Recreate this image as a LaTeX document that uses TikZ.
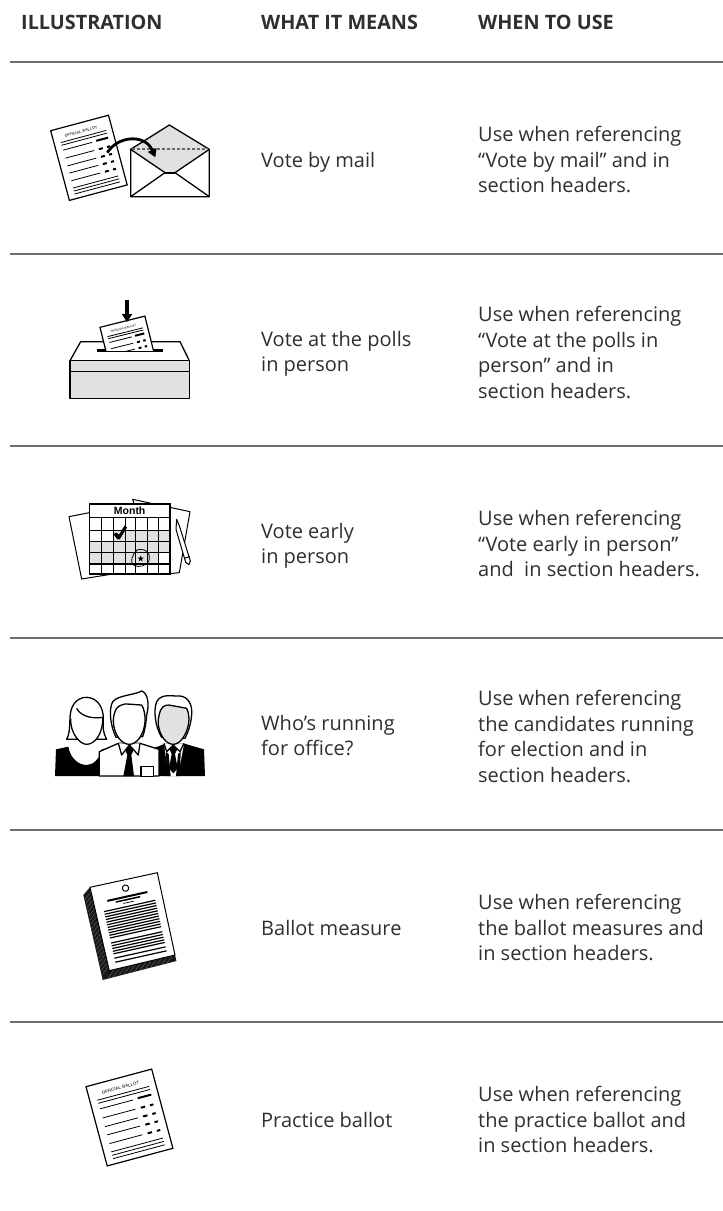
\documentclass[tikz,border=0pt]{standalone}
\usepackage{fontspec}
\setmainfont{Open Sans}
\newfontfamily\helv{Liberation Sans}
\usetikzlibrary{arrows.meta,shapes.geometric,calc}
\definecolor{ink}{HTML}{2F2F2F}
\definecolor{rulegray}{HTML}{6E6E6E}
\definecolor{pale}{HTML}{E0E1E3}
\tikzset{
  headtext/.style={anchor=base west,inner sep=0,text=ink,font=\fontsize{19.8}{24}\selectfont\bfseries},
  bodytext/.style={anchor=north west,inner sep=0,yshift=-1pt,text=ink,align=left,font=\fontsize{20}{25.8}\selectfont},
  rowrule/.style={draw=rulegray,line width=1.6pt},
  zc/.style n args={2}{shift={(#1,#2)},x=0.33333pt,y=-0.33333pt},
  icon/.style={draw=black,line width=1.3pt,line join=round},
  ballot/.pic={
    \draw[line width=1.2pt,fill=white,line join=miter] (0,0) -- (68,0) -- (68,82) -- (0,82) -- cycle;
    \node[transform shape,inner sep=0,text=black!75,font=\helv\bfseries\fontsize{4.3}{4.3}\selectfont] (title) at (33,10) {OFFICIAL BALLOT};
    \foreach \h in {16,19.2,69.5,73,76.5} \draw[line width=.8pt] (7.5,\h) -- (61,\h);
    \foreach \h in {25,34.5,43.5,52,61} \draw[line width=.8pt] (8,\h) -- (42,\h);
    \draw[line width=2pt] (47,24.5) -- (61,24.5);
    \foreach \h in {34.5,43.5,52,61}{
      \draw[line width=2pt] (47.5,\h) -- (52,\h);
      \draw[line width=2pt] (57,\h) -- (60.5,\h);}
  }
}
\begin{document}
\begin{tikzpicture}[x=1pt,y=-1pt]
\useasboundingbox (0,0) rectangle (723,1211);
\fill[white] (0,0) rectangle (723,1211);
% headers
\node[headtext] (h1) at (21,29) {ILLUSTRATION};
\node[headtext] (h2) at (261,29) {WHAT IT MEANS};
\node[headtext] (h3) at (478,29) {WHEN TO USE};
% rules
\foreach \y/\n in {62/a,254/b,446/c,638/d,830/e,1022/f}{
  \coordinate (l\n) at (10,\y); \coordinate (r\n) at (723,\y);
  \draw[rowrule] (l\n) -- (r\n);}
% meanings
\node[bodytext] (m1) at (261,150.7) {Vote by mail};
\node[bodytext] (m2) at (261,329.7) {Vote at the polls\\in person};
\node[bodytext] (m3) at (261,521.7) {Vote early\\in person};
\node[bodytext] (m4) at (261,713.7) {Who’s running\\for office?};
\node[bodytext] (m5) at (261,918.7) {Ballot measure};
\node[bodytext] (m6) at (261,1110.7) {Practice ballot};
% uses
\node[bodytext] (u1) at (478,124.7) {Use when referencing\\“Vote by mail” and in\\section headers.};
\node[bodytext] (u2) at (478,304.7) {Use when referencing\\“Vote at the polls in\\person” and in\\section headers.};
\node[bodytext] (u3) at (478,508.7) {Use when referencing\\“Vote early in person”\\and\ \ in section headers.};
\node[bodytext] (u4) at (478,688.7) {Use when referencing\\the candidates running\\for election and in\\section headers.};
\node[bodytext] (u5) at (478,892.7) {Use when referencing\\the ballot measures and\\in section headers.};
\node[bodytext] (u6) at (478,1084.7) {Use when referencing\\the practice ballot and\\in section headers.};

% --- icon 1: ballot and envelope
\pic[rotate=15,scale=.88] (b1) at (50.7,130.7) {ballot};
\begin{scope}[zc={30}{110}]
  \fill[white] (302,118) rectangle (538,260);
  \fill[pale] (302,118) -- (418,45) -- (538,118) -- (435,188) -- (405,188) -- cycle;
  \draw[icon] (302,118) -- (418,45) -- (538,118) -- (538,260) -- (302,260) -- cycle;
  \draw[icon] (302,118) -- (405,188) -- (435,188) -- (538,118);
  \draw[icon] (302,260) -- (405,188);
  \draw[icon] (538,260) -- (435,188);
  \draw[line width=2.2pt] (405,188) -- (435,188);
  \draw[draw=black!60,line width=1.1pt,dash pattern=on 3pt off 2pt] (306,117) -- (534,117);
  \draw[line width=2.8pt,-{Triangle[length=8pt,width=9pt]}] (232,128) .. controls (262,78) and (345,70) .. (376,142);
\end{scope}

% --- icon 2: ballot box
\begin{scope}[zc={50}{290}]
  \fill[white] (92,155) -- (390,155) -- (418,212) -- (60,212) -- cycle;
  \draw[icon] (60,212) -- (92,155) -- (390,155) -- (418,212);
  \fill[pale] (60,212) rectangle (418,325);
  \draw[icon,line width=1.5pt] (60,212) rectangle (418,325);
  \draw[icon,line width=1.5pt] (60,245) -- (418,245);
  \fill[black] (140,177) rectangle (338,185);
\end{scope}
\begin{scope}
  \clip (0,290) rectangle (723,350.5);
  \pic[rotate=14,scale=.68] (b2) at (100,327.3) {ballot};
\end{scope}
\begin{scope}[zc={50}{290}]
  \coordinate (dropstart) at (231,30);
  \coordinate (dropend) at (231,96);
  \draw[line width=4pt,-{Triangle[length=8pt,width=10pt]}] (dropstart) -- (dropend);
\end{scope}

% --- icon 3: calendar
\begin{scope}[zc={50}{490}]
  \draw[icon,fill=white,line width=1pt] (57,80) -- (118,68) -- (200,200) -- (200,250) -- (95,267) -- cycle;
  \draw[icon,fill=white,line width=1pt] (248,28) -- (420,65) -- (388,248) -- (350,252) -- (300,200) -- cycle;
  \fill[white] (118,42) rectangle (360,252);
  \fill[pale] (190,120) rectangle (360,155);
  \fill[pale] (118,155) rectangle (360,188);
  \fill[pale] (118,188) rectangle (327,222);
  \foreach \x in {155,190,225,258,292,327}
    \draw[line width=1pt] (\x,82) -- (\x,252);
  \foreach \y in {120,155,188}
    \draw[line width=1pt] (118,\y) -- (360,\y);
  \draw[line width=1.6pt] (118,222) -- (360,222);
  \draw[line width=1.6pt] (118,82) -- (360,82);
  \draw[line width=1.6pt] (118,42) rectangle (360,252);
  \node[inner sep=0,font=\helv\bfseries\fontsize{10.5}{12}\selectfont] (month) at (239,62) {Month};
  \fill[black] (190,132) -- (200,128) -- (207,134) -- (224,106) -- (231,113) -- (209,148) -- (202,148) -- cycle;
  \node[star,star points=5,star point ratio=2.4,fill=black,inner sep=0,minimum size=6.5pt] (starmark) at (272,206) {};
  \draw[line width=.8pt] (255,182) .. controls (285,170) and (302,190) .. (298,207) .. controls (295,228) and (265,235) .. (250,225) .. controls (240,215) and (245,195) .. (262,180);
  \draw[line width=1pt,fill=white,line join=round] (380,88) -- (389,110) -- (421,213) -- (417,224) -- (407,217) -- (378,118) -- cycle;
  \draw[line width=1pt] (403,205) -- (419,200);
\end{scope}

% --- icon 4: people
\begin{scope}[zc={40}{680}]
  % woman
  \fill[black] (45,288) -- (48,208) -- (85,200) .. controls (92,240) and (120,255) .. (140,255) .. controls (160,255) and (180,235) .. (185,208) -- (200,205) -- (240,215) -- (240,288) -- cycle;
  \draw[icon,fill=white] (80,178) .. controls (95,150) and (85,110) .. (95,85) .. controls (105,60) and (125,50) .. (142,52) .. controls (175,55) and (190,85) .. (190,115) .. controls (188,145) and (190,160) .. (200,178) -- cycle;
  \draw[icon,fill=white] (92,115) .. controls (90,160) and (120,193) .. (140,193) .. controls (165,193) and (190,160) .. (188,112);
  \draw[icon] (110,85) .. controls (120,105) and (150,118) .. (188,112);
  % right man
  \fill[black] (340,288) -- (340,205) -- (378,190) -- (430,190) -- (492,208) -- (495,288) -- cycle;
  \fill[white] (372,192) -- (432,192) -- (414,288) -- (386,288) -- cycle;
  \fill[black] (400,195) -- (412,207) -- (405,222) -- (413,265) -- (400,280) -- (387,265) -- (395,222) -- (388,207) -- cycle;
  \fill[black] (378,215) -- (386,222) -- (392,288) -- (380,288) -- cycle;
  \fill[black] (422,215) -- (414,222) -- (408,288) -- (420,288) -- cycle;
  \draw[icon,fill=white] (372,190) -- (380,215) -- (400,195) -- (420,215) -- (432,190);
  \draw[icon,fill=white] (365,172) .. controls (345,140) and (340,90) .. (350,65) .. controls (365,38) and (400,50) .. (420,48) .. controls (445,50) and (458,75) .. (455,105) .. controls (452,135) and (445,155) .. (435,175) -- cycle;
  \draw[icon,fill=pale] (358,102) .. controls (362,85) and (370,75) .. (385,75) .. controls (405,78) and (425,82) .. (440,85) .. controls (447,100) and (448,115) .. (446,130) .. controls (440,165) and (420,193) .. (400,193) .. controls (380,193) and (360,170) .. (355,135) .. controls (354,122) and (355,112) .. (358,102) -- cycle;
  % centre man
  \draw[icon,fill=white] (178,288) -- (178,215) -- (235,190) -- (300,190) -- (357,208) -- (357,288) -- cycle;
  \fill[black] (268,195) -- (282,208) -- (274,225) -- (282,288) -- (250,288) -- (262,225) -- (254,208) -- cycle;
  \draw[icon,fill=white] (235,190) -- (245,225) -- (268,195) -- (295,225) -- (300,190);
  \draw[icon,fill=white] (303,260) rectangle (340,290);
  \draw[icon,fill=white] (228,172) .. controls (212,140) and (205,90) .. (218,65) .. controls (235,45) and (285,45) .. (305,33) .. controls (325,40) and (328,75) .. (320,105) .. controls (318,130) and (315,150) .. (308,170) -- cycle;
  \draw[icon,fill=white] (225,95) .. controls (228,82) and (240,75) .. (255,72) .. controls (275,72) and (295,75) .. (305,75) .. controls (312,85) and (316,105) .. (315,125) .. controls (312,165) and (290,193) .. (268,193) .. controls (245,193) and (222,165) .. (220,125) .. controls (220,112) and (222,102) .. (225,95) -- cycle;
\end{scope}

% --- icon 5: stack
\fill[black!90] (90,887.3) -- (83.3,895) -- (102.7,980) -- (176.5,961) -- (175,955) -- cycle;
\foreach \t in {0.05,0.1,...,0.97}{
  \draw[white!45!black,line width=.3pt] ($(90,887.3)!\t!(109.3,970.7)$) -- ++(-6,8);
}
\foreach \t in {0.08,0.16,...,0.97}{
  \draw[white!45!black,line width=.3pt] ($(109.3,970.7)!\t!(175,955)$) -- ++(-6.5,8.5);
}
\draw[line width=1pt,fill=white] (90,887.3) -- (157.3,872.7) -- (175,955) -- (109.3,970.7) -- cycle;
\begin{scope}[shift={(90,887.3)},rotate=12.5]
  \draw[line width=1pt,fill=white] (34.5,8.5) circle (3.2pt);
  \draw[line width=2pt] (14,17) -- (55,17);
  \draw[line width=1.5pt] (22,20) -- (47,20);
  \draw[line width=.7pt] (29,23) -- (40,23);
  \foreach \h in {26.8,29.5,32.2,34.9,37.6,40.3,43,45.7,48.4,51.1,53.8}
    \draw[line width=1.2pt] (8.5,\h) -- (61,\h);
  \foreach \h in {59,61.8,64.6,67.4,70}
    \draw[line width=1.2pt] (8.5,\h) -- (61,\h);
  \foreach \h in {74.5,78.6}
    \draw[line width=1.2pt] (8.5,\h) -- (61,\h);
\end{scope}

% --- icon 6: practice ballot
\pic[rotate=15] (b6) at (86,1086.7) {ballot};
\end{tikzpicture}
\end{document}
